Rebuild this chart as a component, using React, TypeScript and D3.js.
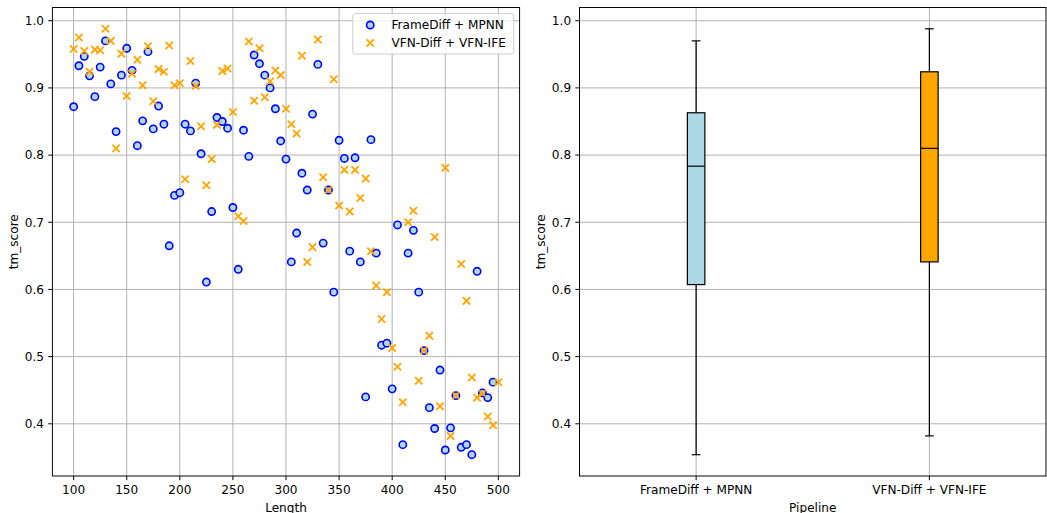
import React from 'react';
import * as d3 from 'd3';

const lengths = [100,105,110,115,120,125,130,135,140,145,150,155,160,165,170,175,180,185,190,195,200,205,210,215,220,225,230,235,240,245,250,255,260,265,270,275,280,285,290,295,300,305,310,315,320,325,330,335,340,345,350,355,360,365,370,375,380,385,390,395,400,405,410,415,420,425,430,435,440,445,450,455,460,465,470,475,480,485,490,495,500];

const frameDiffScores = [
  0.872,0.933,0.947,0.918,0.887,0.931,0.970,0.906,0.835,0.919,
  0.959,0.926,0.814,0.851,0.954,0.839,0.873,0.846,0.665,0.740,
  0.744,0.846,0.836,0.907,0.802,0.611,0.716,0.856,0.850,0.840,
  0.722,0.630,0.837,0.798,0.949,0.936,0.919,0.900,0.869,0.821,
  0.794,0.641,0.684,0.773,0.748,0.861,0.935,0.669,0.748,0.596,
  0.822,0.795,0.657,0.796,0.641,0.440,0.823,0.654,0.517,0.520,
  0.452,0.696,0.369,0.654,0.688,0.596,0.509,0.424,0.393,0.480,
  0.361,0.394,0.442,0.365,0.369,0.354,0.627,0.446,0.439,0.462
];

const vfnScores = [
  0.958,0.975,0.955,0.924,0.957,0.956,0.988,0.970,0.810,0.951,
  0.888,0.921,0.942,0.904,0.962,0.880,0.928,0.924,0.963,0.904,
  0.907,0.764,0.940,0.903,0.843,0.755,0.794,0.845,0.925,0.929,
  0.864,0.709,0.702,0.969,0.881,0.959,0.886,0.910,0.926,0.919,
  0.869,0.846,0.832,0.948,0.641,0.663,0.972,0.767,0.748,0.913,
  0.725,0.778,0.716,0.778,0.736,0.765,0.657,0.606,0.556,0.596,
  0.513,0.485,0.432,0.700,0.717,0.464,0.509,0.531,0.678,0.426,
  0.781,0.382,0.442,0.638,0.583,0.469,0.439,0.445,0.411,0.398,
  0.462
];

const pipelines = ['FrameDiff + MPNN', 'VFN-Diff + VFN-IFE'];
const xTicks = [100,150,200,250,300,350,400,450,500];
const yTicks = [0.4,0.5,0.6,0.7,0.8,0.9,1.0];

const W = 1047, H = 513;
const FONT = 'DejaVu Sans, sans-serif';
const FS = 12.1;
const TICK = 4.2;
const GRID = '#b0b0b0';

const LA = { left: 52.4, right: 519.6, top: 7.5, bottom: 476 };
const RA = { left: 579.5, right: 1046, top: 7.5, bottom: 476 };

function boxStats(vals: number[]) {
  const s = vals.slice().sort(d3.ascending);
  const q1 = d3.quantile(s, 0.25)!;
  const med = d3.quantile(s, 0.5)!;
  const q3 = d3.quantile(s, 0.75)!;
  const iqr = q3 - q1;
  const lo = d3.min(s.filter(v => v >= q1 - 1.5 * iqr))!;
  const hi = d3.max(s.filter(v => v <= q3 + 1.5 * iqr))!;
  return { q1, med, q3, lo, hi };
}

export default function App() {
  const xMin = d3.min(lengths)!, xMax = d3.max(lengths)!;
  const xPad = (xMax - xMin) * 0.05;
  const x = d3.scaleLinear().domain([xMin - xPad, xMax + xPad]).range([LA.left, LA.right]);
  const all = frameDiffScores.concat(vfnScores);
  const yMin = d3.min(all)!, yMax = d3.max(all)!;
  const yPad = (yMax - yMin) * 0.05;
  const yL = d3.scaleLinear().domain([yMin - yPad, yMax + yPad]).range([LA.bottom, LA.top]);

  const stats = [boxStats(frameDiffScores), boxStats(vfnScores)];
  const bMin = d3.min(stats, s => s.lo)!, bMax = d3.max(stats, s => s.hi)!;
  const bPad = (bMax - bMin) * 0.05;
  const yR = d3.scaleLinear().domain([bMin - bPad, bMax + bPad]).range([RA.bottom, RA.top]);
  const xR = d3.scaleLinear().domain([0.5, 2.5]).range([RA.left, RA.right]);
  const boxFill = ['#add8e6', '#ffa500'];
  const boxW = xR(1.075) - xR(1);
  const capW = boxW / 2;

  const ms = 3.64;

  const xMark = (cx: number, cy: number, key: any, color = '#ffa500') => (
    <g key={key} stroke={color} strokeWidth={1.8} strokeLinecap="butt">
      <line x1={cx - ms} y1={cy - ms} x2={cx + ms} y2={cy + ms} />
      <line x1={cx - ms} y1={cy + ms} x2={cx + ms} y2={cy - ms} />
    </g>
  );

  return (
    <svg width={W} height={H} style={{ position: 'absolute', left: 0, top: 0, background: '#fff' }}
      fontFamily={FONT} fontSize={FS}>
      <rect x={0} y={0} width={W} height={H} fill="#fff" />
      {/* LEFT: scatter */}
      <g>
        {xTicks.map(t => (
          <line key={'gx' + t} x1={x(t)} x2={x(t)} y1={LA.top} y2={LA.bottom} stroke={GRID} strokeWidth={0.97} />
        ))}
        {yTicks.map(t => (
          <line key={'gy' + t} x1={LA.left} x2={LA.right} y1={yL(t)} y2={yL(t)} stroke={GRID} strokeWidth={0.97} />
        ))}
        {frameDiffScores.map((v, i) => (
          <circle key={'b' + i} cx={x(lengths[i])} cy={yL(v)} r={ms} fill="#add8e6" stroke="#0000ff" strokeWidth={1.6} />
        ))}
        {vfnScores.map((v, i) => xMark(x(lengths[i]), yL(v), 'o' + i))}
        <rect x={LA.left} y={LA.top} width={LA.right - LA.left} height={LA.bottom - LA.top} fill="none" stroke="#000" strokeWidth={0.97} />
        {xTicks.map(t => (
          <g key={'tx' + t}>
            <line x1={x(t)} x2={x(t)} y1={LA.bottom} y2={LA.bottom + TICK} stroke="#000" strokeWidth={0.97} />
            <text x={x(t)} y={LA.bottom + 2 * TICK + 9.3} textAnchor="middle" fill="#000">{t}</text>
          </g>
        ))}
        {yTicks.map(t => (
          <g key={'ty' + t}>
            <line x1={LA.left - TICK} x2={LA.left} y1={yL(t)} y2={yL(t)} stroke="#000" strokeWidth={0.97} />
            <text x={LA.left - 2 * TICK} y={yL(t)} dy="0.35em" textAnchor="end" fill="#000">{t.toFixed(1)}</text>
          </g>
        ))}
        <text x={(LA.left + LA.right) / 2} y={511.5} textAnchor="middle" fill="#000">Length</text>
        <text transform={`translate(17.5, ${(LA.top + LA.bottom) / 2}) rotate(-90)`} textAnchor="middle" fill="#000">tm_score</text>
        {/* legend */}
        <g>
          <rect x={352.7} y={13.5} width={161} height={40.5} rx={2.5} fill="#fff" fillOpacity={0.8} stroke="#cccccc" strokeWidth={0.97} />
          <circle cx={370.2} cy={25} r={ms} fill="#add8e6" stroke="#0000ff" strokeWidth={1.6} />
          <text x={391.5} y={25} dy="0.35em" fill="#000">{pipelines[0]}</text>
          {xMark(370.2, 43, 'legx')}
          <text x={391.5} y={43} dy="0.35em" fill="#000">{pipelines[1]}</text>
        </g>
      </g>
      {/* RIGHT: boxplot */}
      <g>
        {pipelines.map((p, i) => (
          <line key={'rgx' + i} x1={xR(i + 1)} x2={xR(i + 1)} y1={RA.top} y2={RA.bottom} stroke={GRID} strokeWidth={0.97} />
        ))}
        {yTicks.map(t => (
          <line key={'rgy' + t} x1={RA.left} x2={RA.right} y1={yR(t)} y2={yR(t)} stroke={GRID} strokeWidth={0.97} />
        ))}
        {stats.map((s, i) => {
          const cx = xR(i + 1);
          return (
            <g key={'box' + i} stroke="#000" strokeWidth={1.2}>
              <line x1={cx} x2={cx} y1={yR(s.q3)} y2={yR(s.hi)} />
              <line x1={cx} x2={cx} y1={yR(s.q1)} y2={yR(s.lo)} />
              <line x1={cx - capW / 2} x2={cx + capW / 2} y1={yR(s.hi)} y2={yR(s.hi)} />
              <line x1={cx - capW / 2} x2={cx + capW / 2} y1={yR(s.lo)} y2={yR(s.lo)} />
              <rect x={cx - boxW / 2} y={yR(s.q3)} width={boxW} height={yR(s.q1) - yR(s.q3)} fill={boxFill[i]} />
              <line x1={cx - boxW / 2} x2={cx + boxW / 2} y1={yR(s.med)} y2={yR(s.med)} />
            </g>
          );
        })}
        <rect x={RA.left} y={RA.top} width={RA.right - RA.left} height={RA.bottom - RA.top} fill="none" stroke="#000" strokeWidth={0.97} />
        {pipelines.map((p, i) => (
          <g key={'rtx' + i}>
            <line x1={xR(i + 1)} x2={xR(i + 1)} y1={RA.bottom} y2={RA.bottom + TICK} stroke="#000" strokeWidth={0.97} />
            <text x={xR(i + 1)} y={RA.bottom + 2 * TICK + 9.3} textAnchor="middle" fill="#000">{p}</text>
          </g>
        ))}
        {yTicks.map(t => (
          <g key={'rty' + t}>
            <line x1={RA.left - TICK} x2={RA.left} y1={yR(t)} y2={yR(t)} stroke="#000" strokeWidth={0.97} />
            <text x={RA.left - 2 * TICK} y={yR(t)} dy="0.35em" textAnchor="end" fill="#000">{t.toFixed(1)}</text>
          </g>
        ))}
        <text x={(RA.left + RA.right) / 2} y={511.5} textAnchor="middle" fill="#000">Pipeline</text>
        <text transform={`translate(545, ${(RA.top + RA.bottom) / 2}) rotate(-90)`} textAnchor="middle" fill="#000">tm_score</text>
      </g>
    </svg>
  );
}
